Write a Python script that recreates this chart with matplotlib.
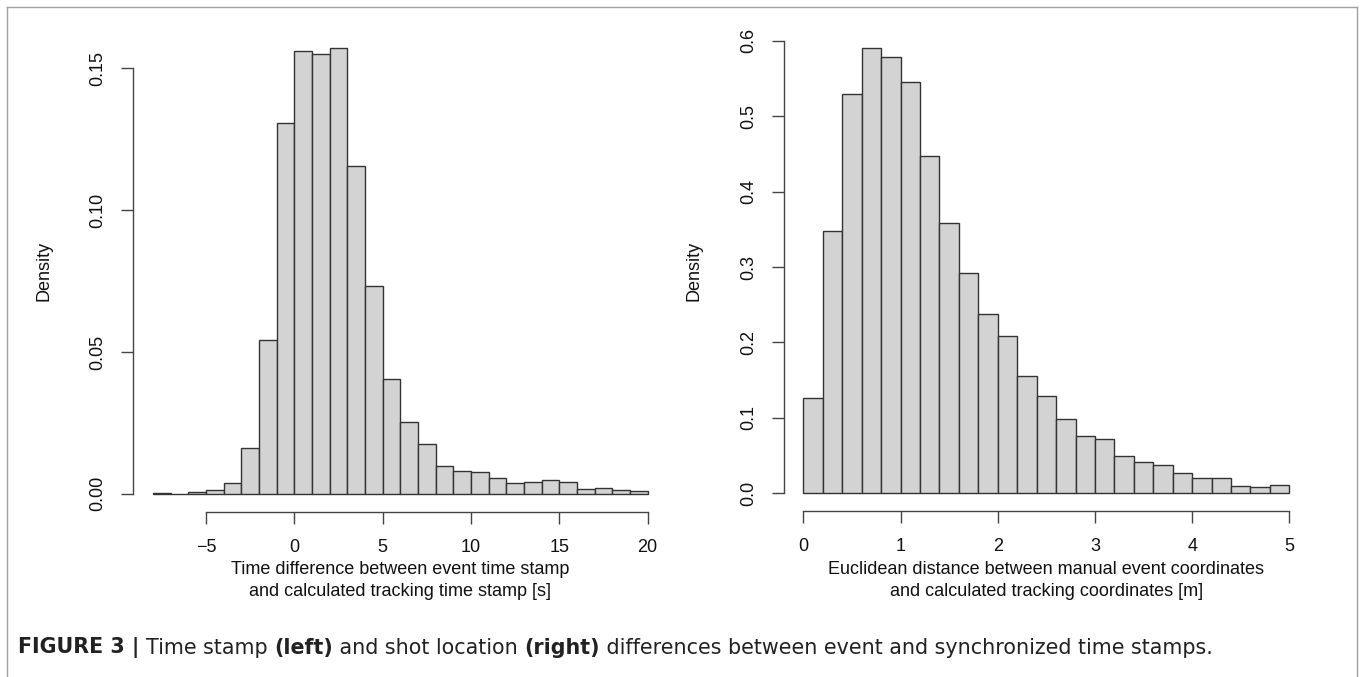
import numpy as np
import matplotlib.pyplot as plt
from matplotlib.lines import Line2D

plt.rcParams['font.family'] = ['Liberation Sans', 'DejaVu Sans']

# left histogram: time difference (bins of 1 s)
time_edges = list(range(-8, 21))
time_density = [0.0004, 0.0001, 0.0008, 0.0013, 0.0037, 0.0163, 0.0544, 0.1308,
                0.1562, 0.1550, 0.1571, 0.1155, 0.0734, 0.0406, 0.0255, 0.0175,
                0.0100, 0.0081, 0.0076, 0.0056, 0.0039, 0.0043, 0.0049, 0.0041,
                0.0018, 0.0020, 0.0014, 0.0011]
time_xticks = [-5, 0, 5, 10, 15, 20]
time_yticks = [0.00, 0.05, 0.10, 0.15]
time_ylabels = ['0.00', '0.05', '0.10', '0.15']

# right histogram: euclidean distance (bins of 0.2 m)
dist_edges = [0.0, 0.2, 0.4, 0.6, 0.8, 1.0, 1.2, 1.4, 1.6, 1.8, 2.0, 2.2, 2.4,
              2.6, 2.8, 3.0, 3.2, 3.4, 3.6, 3.8, 4.0, 4.2, 4.4, 4.6, 4.8, 5.0]
dist_density = [0.127, 0.348, 0.529, 0.590, 0.578, 0.545, 0.447, 0.358, 0.292,
                0.238, 0.208, 0.156, 0.129, 0.098, 0.076, 0.072, 0.049, 0.042,
                0.038, 0.027, 0.020, 0.020, 0.010, 0.008, 0.011]
dist_xticks = [0, 1, 2, 3, 4, 5]
dist_yticks = [0.0, 0.1, 0.2, 0.3, 0.4, 0.5, 0.6]
dist_ylabels = ['0.0', '0.1', '0.2', '0.3', '0.4', '0.5', '0.6']

W, H = 1360, 677
fig = plt.figure(figsize=(W / 100, H / 100), dpi=100)
fig.patch.set_facecolor('white')

FS = 13
AX_COL = '#444444'


def r_hist(ax, edges, dens, xticks, yticks, ylabels, xlabel):
    widths = np.diff(edges)
    ax.bar(edges[:-1], dens, width=widths, align='edge',
           color='#d3d3d3', edgecolor='#333333', linewidth=1.0)
    # R style 4% padding
    xr = edges[-1] - edges[0]
    ymax = max(dens)
    ax.set_xlim(edges[0] - 0.04 * xr, edges[-1] + 0.04 * xr)
    ax.set_ylim(-0.04 * ymax, ymax * 1.04)
    for s in ['top', 'right']:
        ax.spines[s].set_visible(False)
    for s in ['left', 'bottom']:
        ax.spines[s].set_color(AX_COL)
        ax.spines[s].set_linewidth(1.0)
    ax.spines['bottom'].set_bounds(xticks[0], xticks[-1])
    ax.spines['left'].set_bounds(yticks[0], yticks[-1])
    ax.set_xticks(xticks)
    ax.set_yticks(yticks)
    ax.set_yticklabels(ylabels)
    ax.tick_params(axis='both', length=8.4, width=1.0, color=AX_COL,
                   labelsize=FS, labelcolor='#111111', pad=11)
    for lab in ax.get_yticklabels():
        lab.set_rotation(90)
        lab.set_va('center')
    ax.set_xlabel(xlabel, fontsize=FS, color='#111111', linespacing=1.4)
    ax.xaxis.set_label_coords(0.5, -0.103)
    ax.xaxis.label.set_va('top')
    ax.set_ylabel('Density', fontsize=FS, color='#111111')


ax1 = fig.add_axes([133.3 / W, 1 - 511.7 / H, 534 / W, 481.3 / H])
r_hist(ax1, time_edges, time_density, time_xticks, time_yticks, time_ylabels,
       'Time difference between event time stamp\nand calculated tracking time stamp [s]')
ax1.yaxis.set_label_coords(-0.151, 0.5)

ax2 = fig.add_axes([783.9 / W, 1 - 511.1 / H, 524.9 / W, 480.6 / H])
r_hist(ax2, dist_edges, dist_density, dist_xticks, dist_yticks, dist_ylabels,
       'Euclidean distance between manual event coordinates\nand calculated tracking coordinates [m]')
ax2.yaxis.set_label_coords(-0.156, 0.5)

# frame around the figure (left, top, right)
fc = '#a0a0a0'
fig.add_artist(Line2D([7 / W, 7 / W], [0, 1 - 7 / H], color=fc, lw=1.0))
fig.add_artist(Line2D([7 / W, 1357 / W], [1 - 7 / H, 1 - 7 / H], color=fc, lw=1.0))
fig.add_artist(Line2D([1357 / W, 1357 / W], [0, 1 - 7 / H], color=fc, lw=1.0))

# caption with mixed weights
caption = [('FIGURE 3 | ', 'bold'), ('Time stamp ', 'normal'), ('(left)', 'bold'),
           (' and shot location ', 'normal'), ('(right)', 'bold'),
           (' differences between event and synchronized time stamps.', 'normal')]
cap_x0, cap_x1 = 18, 1212


def draw_caption(size):
    fig.canvas.draw()
    renderer = fig.canvas.get_renderer()
    x = cap_x0 / W
    texts = []
    for txt, wt in caption:
        t = fig.text(x, 1 - 648 / H, txt, fontsize=size, fontweight=wt,
                     family='DejaVu Sans', color='#222222',
                     va='center', ha='left')
        texts.append(t)
        bb = t.get_window_extent(renderer=renderer)
        x = bb.x1 / W
    return texts, x * W


texts, end = draw_caption(12)
for t in texts:
    t.remove()
size = 12 * (cap_x1 - cap_x0) / (end - cap_x0)
draw_caption(size)

fig.savefig('out.png', dpi=100)
